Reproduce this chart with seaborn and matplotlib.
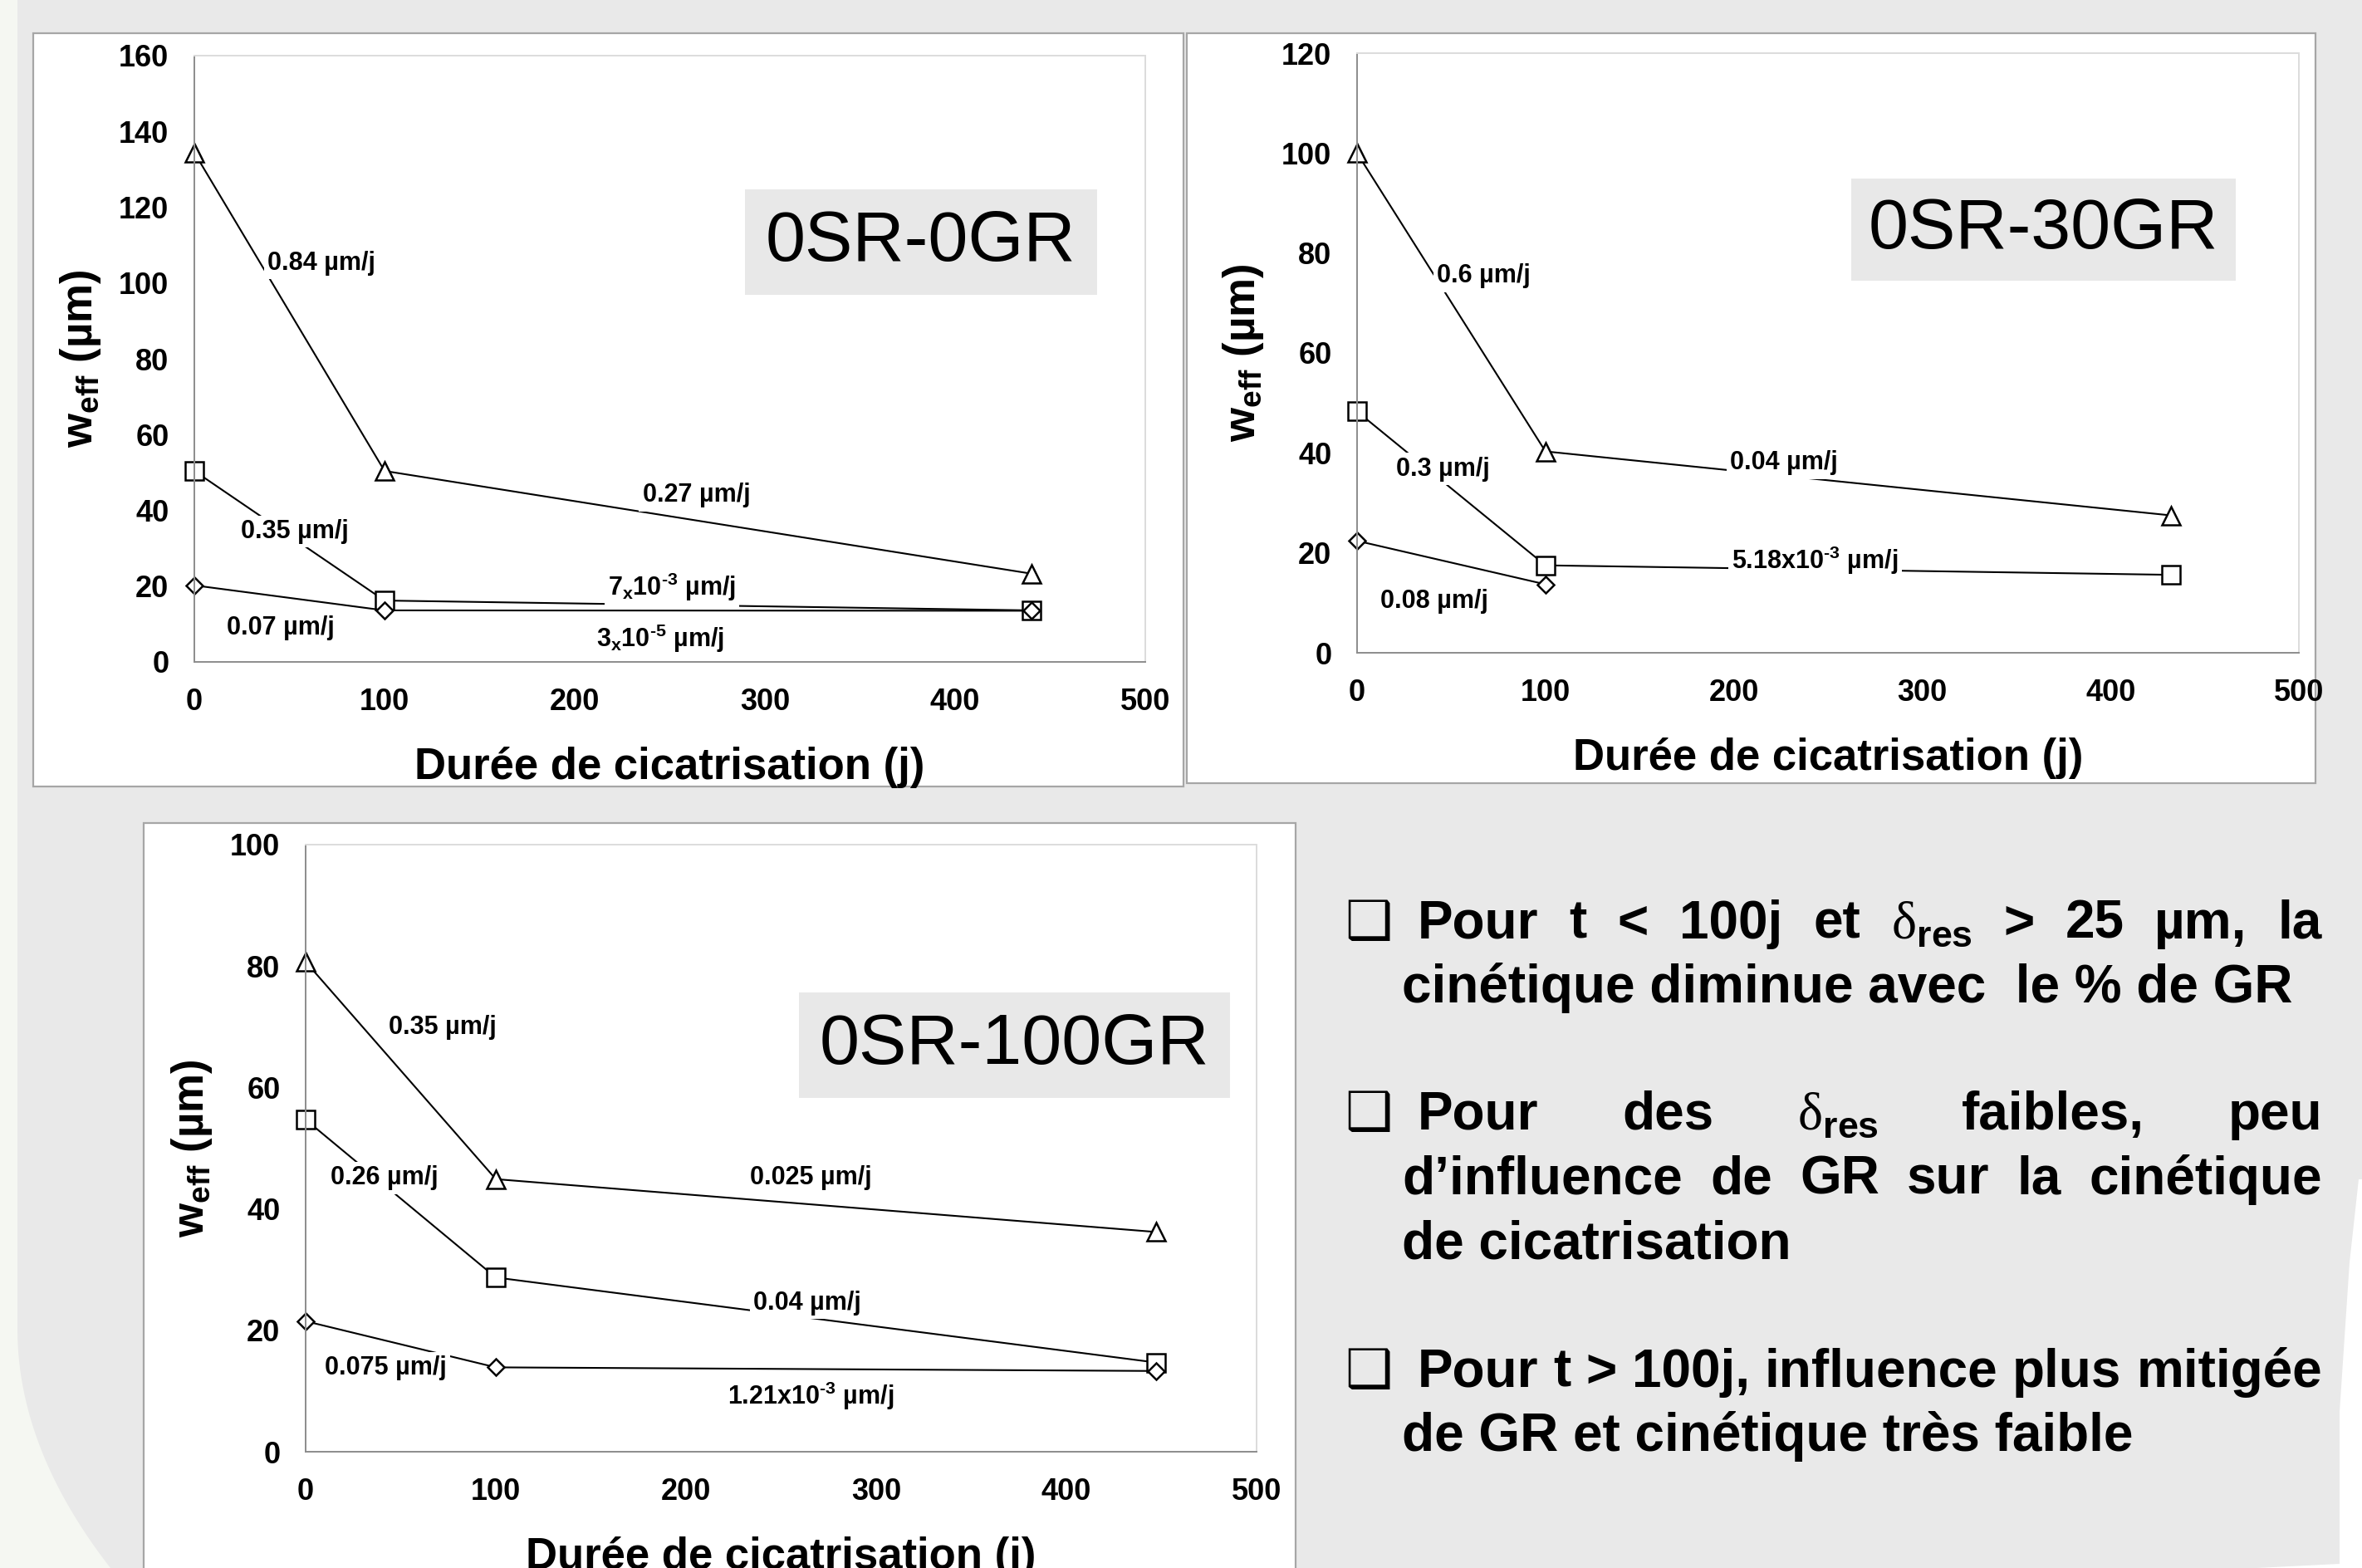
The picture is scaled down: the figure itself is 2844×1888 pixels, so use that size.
import matplotlib
matplotlib.use("Agg")
import numpy as np
import seaborn as sns
from matplotlib import pyplot as plt
from matplotlib.patches import Rectangle, Polygon

# --- data ------------------------------------------------------------------
t_0gr = [0, 100, 440]
tri_0gr = [134.4, 50.4, 23.3]
sq_0gr = [50.4, 16.2, 13.6]
dia_0gr = [20.2, 13.6, 13.5]
rates_0gr = ["0.84 µm/j", "0.27 µm/j", "0.35 µm/j",
             r"7$_\mathrm{x}$10$^\mathrm{‐3}$ µm/j", "0.07 µm/j",
             r"3$_\mathrm{x}$10$^\mathrm{‐5}$ µm/j"]

t_30gr = [0, 100, 432]
tri_30gr = [100.0, 40.3, 27.5]
sq_30gr = [48.3, 17.5, 15.6]
t_30gr_dia = [0, 100]
dia_30gr = [22.4, 13.7]
rates_30gr = ["0.6 µm/j", "0.04 µm/j", "0.3 µm/j",
              r"5.18x10$^\mathrm{‐3}$ µm/j", "0.08 µm/j"]

t_100gr = [0, 100, 447]
tri_100gr = [80.7, 44.9, 36.2]
sq_100gr = [54.7, 28.7, 14.7]
dia_100gr = [21.5, 13.9, 13.3]
rates_100gr = ["0.35 µm/j", "0.025 µm/j", "0.26 µm/j", "0.04 µm/j",
               "0.075 µm/j", r"1.21x10$^\mathrm{‐3}$ µm/j"]

x_ticks = [0, 100, 200, 300, 400, 500]
x_label = "Durée de cicatrisation (j)"
y_label = r"$\mathrm{w}_\mathrm{eff}$ (µm)"

# --- layout (pixels of the 2844x1888 canvas) --------------------------------
W, H, DPI = 2844, 1888, 200
BG = "#e9e9e9"

sns.set_theme(style="white")
plt.rcParams["font.family"] = ["Liberation Sans", "DejaVu Sans"]
plt.rcParams["font.weight"] = "bold"
plt.rcParams["mathtext.fontset"] = "custom"
plt.rcParams["mathtext.rm"] = "Liberation Sans:bold"
plt.rcParams["mathtext.bf"] = "Liberation Sans:bold"
plt.rcParams["mathtext.it"] = "Liberation Sans:italic:bold"
plt.rcParams["mathtext.sf"] = "Liberation Sans:bold"
for key in ["text.color", "axes.labelcolor", "xtick.color", "ytick.color"]:
    plt.rcParams[key] = "black"


def fx(px):
    return px / W


def fy(py):
    return 1 - py / H


fig = plt.figure(figsize=(W / DPI, H / DPI), dpi=DPI, facecolor=BG)

# slide decoration: light margin on the left, white corner on the right
curve_y = np.linspace(1600, 1888, 30)
curve_x = 21 + 112 * ((curve_y - 1600) / 288) ** 2
left_pts = [(0, 0), (21, 0)] + list(zip(curve_x, curve_y)) + [(0, 1888)]
fig.add_artist(Polygon([(fx(a), fy(b)) for a, b in left_pts], closed=True,
                       transform=fig.transFigure, facecolor="#f5f7f2",
                       edgecolor="none", zorder=-3))
right_pts = [(2840, 1420), (2844, 1420), (2844, 1888), (2717, 1888),
             (2817, 1883), (2817, 1700), (2829, 1520)]
fig.add_artist(Polygon([(fx(a), fy(b)) for a, b in right_pts], closed=True,
                       transform=fig.transFigure, facecolor="white",
                       edgecolor="none", zorder=-3))


def frame(x0, y0, x1, y1):
    fig.add_artist(Rectangle((fx(x0), fy(y1)), (x1 - x0) / W, (y1 - y0) / H,
                             transform=fig.transFigure, facecolor="white",
                             edgecolor="#a6a6a6", lw=0.8, zorder=-2))


def add_axes(x0, y0, x1, y1):
    return fig.add_axes([fx(x0), fy(y1), (x1 - x0) / W, (y1 - y0) / H])


MARKERS = {"tri": ("^", 7.6), "sq": ("s", 7.6), "dia": ("D", 5.0)}


def draw_panel(ax, series, ymax, rates, rate_xy, name, box):
    for kind, t, w in series:
        m, ms = MARKERS[kind]
        sns.lineplot(x=t, y=w, ax=ax, color="black", lw=0.75, marker=m,
                     ms=ms, mfc="white", mec="black", mew=0.9, zorder=2,
                     clip_on=False)
    for txt, (x, y) in zip(rates, rate_xy):
        ax.text(x, y, txt, fontsize=11, ha="center", va="center",
                bbox=dict(facecolor="white", edgecolor="none", pad=1.5),
                zorder=4)
    ax.set_xlim(0, 500)
    ax.set_ylim(0, ymax)
    ax.set_xticks(x_ticks)
    ax.set_yticks(np.arange(0, ymax + 1, 20))
    ax.tick_params(axis="both", direction="out", length=4, width=0.6,
                   color="#8c8c8c", labelcolor="black", labelsize=13, pad=7)
    for lab in ax.get_xticklabels() + ax.get_yticklabels():
        lab.set_fontweight("bold")
    for s in ["left", "bottom"]:
        ax.spines[s].set_color("#8c8c8c")
        ax.spines[s].set_linewidth(0.7)
    for s in ["top", "right"]:
        ax.spines[s].set_color("#dcdcdc")
        ax.spines[s].set_linewidth(0.7)
    ax.set_xlabel(x_label, fontsize=19, fontweight="bold", labelpad=13)
    ax.set_ylabel(y_label, fontsize=19, fontweight="bold", labelpad=7)
    bx0, by0, bx1, by1 = box
    ax.add_patch(Rectangle((bx0, by0), bx1 - bx0, by1 - by0,
                           transform=ax.transAxes, facecolor="#e8e8e8",
                           edgecolor="none", zorder=3))
    ax.text((bx0 + bx1) / 2, (by0 + by1) / 2, name, transform=ax.transAxes,
            fontsize=31, fontweight="normal", ha="center", va="center",
            zorder=4)


# top left
frame(40, 40, 1425, 947)
ax1 = add_axes(234, 67, 1379, 797)
draw_panel(ax1,
           [("tri", t_0gr, tri_0gr), ("sq", t_0gr, sq_0gr),
            ("dia", t_0gr, dia_0gr)],
           160, rates_0gr,
           [(67, 105.2), (264, 44.0), (53, 34.4), (251, 19.7), (45.5, 9.0),
            (245, 6.1)],
           "0SR-0GR", (0.579, 0.605, 0.949, 0.779))

# top right
frame(1429, 40, 2788, 943)
ax2 = add_axes(1634, 64, 2768, 786)
draw_panel(ax2,
           [("tri", t_30gr, tri_30gr), ("sq", t_30gr, sq_30gr),
            ("dia", t_30gr_dia, dia_30gr)],
           120, rates_30gr,
           [(67.4, 75.4), (226.5, 38.0), (45.8, 36.8), (243, 18.4),
            (41, 10.3)],
           "0SR-30GR", (0.525, 0.620, 0.933, 0.791))

# bottom
frame(173, 991, 1560, 1900)
ax3 = add_axes(368, 1017, 1513, 1748)
draw_panel(ax3,
           [("tri", t_100gr, tri_100gr), ("sq", t_100gr, sq_100gr),
            ("dia", t_100gr, dia_100gr)],
           100, rates_100gr,
           [(72, 69.9), (265.5, 45.1), (41.3, 45.1), (263.8, 24.5),
            (42, 13.8), (265.5, 9.2)],
           "0SR-100GR", (0.519, 0.583, 0.972, 0.756))

# --- bullet text block --------------------------------------------------------
FS = 23
renderer = fig.canvas.get_renderer()
DELTA = r"δ$_\mathrm{res}$"


def word_text(w, x, base):
    kw = dict(fontsize=FS, fontweight="bold", va="baseline", ha="left")
    if w == DELTA:
        kw.update(family=["Liberation Serif", "DejaVu Serif"],
                  fontweight="normal")
    return fig.text(fx(x), fy(base), w, **kw)


def justified(words, base, x_left, x_right=2796):
    texts = [word_text(w, x_left, base) for w in words]
    widths = [t.get_window_extent(renderer).width for t in texts]
    gap = (x_right - x_left - sum(widths)) / (len(words) - 1)
    x = x_left
    for t, wd in zip(texts, widths):
        t.set_x(fx(x))
        x += wd + gap


def bullet(base):
    fig.text(fx(1619), fy(base), "❑", fontsize=FS, va="baseline",
             family=["DejaVu Sans"], fontweight="normal")


bullet(1130)
justified(["Pour", "t", "<", "100j", "et", DELTA, ">", "25", "µm,", "la"],
          1130, 1707)
fig.text(fx(1688), fy(1207), "cinétique diminue avec  le % de GR",
         fontsize=FS, fontweight="bold", va="baseline")

bullet(1360)
justified(["Pour", "des", DELTA, "faibles,", "peu"], 1360, 1707)
justified(["d’influence", "de", "GR", "sur", "la", "cinétique"], 1438, 1688)
fig.text(fx(1688), fy(1515), "de cicatrisation",
         fontsize=FS, fontweight="bold", va="baseline")

bullet(1670)
justified(["Pour", "t", ">", "100j,", "influence", "plus", "mitigée"],
          1670, 1707)
fig.text(fx(1688), fy(1747), "de GR et cinétique très faible",
         fontsize=FS, fontweight="bold", va="baseline")

fig.savefig("out.png", dpi=DPI, facecolor=BG)
